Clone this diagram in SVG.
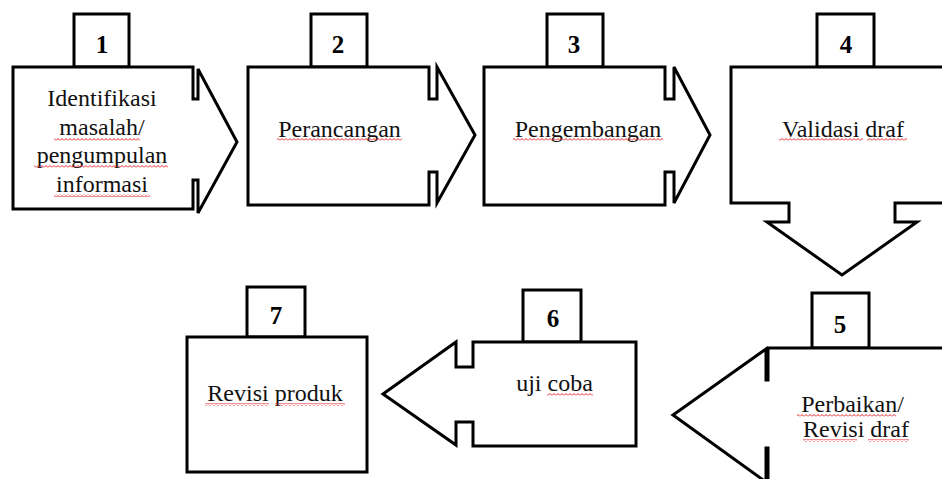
<svg xmlns="http://www.w3.org/2000/svg" width="942" height="479" viewBox="0 0 942 479">
  <style>
    .shape { fill: #ffffff; stroke: #000000; stroke-width: 3; stroke-linejoin: miter; }
    .tab { fill: #ffffff; stroke: #000000; stroke-width: 3; }
    .num { font-family: "Liberation Serif", "Times New Roman", serif; font-weight: bold; font-size: 25px; fill: #000; text-anchor: middle; }
    .lbl { font-family: "Liberation Serif", "Times New Roman", serif; font-size: 24px; fill: #111; text-anchor: middle; }
    .spell { fill: url(#wavy); }
  </style>
  <defs>
    <pattern id="wavy" width="4" height="3" patternUnits="userSpaceOnUse">
      <path d="M0,2.5 L2,0.5 L4,2.5" fill="none" stroke="#e3262b" stroke-width="1"/>
    </pattern>
  </defs>
  <rect width="942" height="479" fill="#ffffff"/>

  <g id="connectors"></g>

  <g id="node1">
    <rect class="tab" x="74" y="14" width="55" height="53"/>
    <path class="shape" d="M13,67 H193 V99 H198 V69 L237,142 L198,213 V180 H193 V209 H13 Z"/>
    <text class="num" x="102" y="53">1</text>
    <text class="lbl" x="102" y="106">Identifikasi</text>
    <text class="lbl" x="102" y="135">masalah/</text>
    <text class="lbl" x="102" y="163">pengumpulan</text>
    <text class="lbl" x="102" y="192">informasi</text>
    <rect class="spell" x="54" y="138" width="86" height="3"/>
    <rect class="spell" x="34" y="165" width="134" height="3"/>
    <rect class="spell" x="54" y="194" width="96" height="3"/>
  </g>

  <g id="node2">
    <rect class="tab" x="311" y="14" width="56" height="53"/>
    <path class="shape" d="M248,67 H429 V99 H437 V67 L475,135 L437,203 V172 H429 V205 H248 Z"/>
    <text class="num" x="338" y="53">2</text>
    <text class="lbl" x="339.5" y="137">Perancangan</text>
    <rect class="spell" x="277" y="138" width="125" height="3"/>
  </g>

  <g id="node3">
    <rect class="tab" x="547" y="14" width="56" height="53"/>
    <path class="shape" d="M484,67 H665 V99 H674 V67 L710,135 L674,203 V172 H665 V205 H484 Z"/>
    <text class="num" x="574" y="53">3</text>
    <text class="lbl" x="588" y="137">Pengembangan</text>
    <rect class="spell" x="513" y="138" width="150" height="3"/>
  </g>

  <g id="node4">
    <rect class="tab" x="817" y="14" width="57" height="53"/>
    <path class="shape" d="M731,67 H960 V203 H895 V222 H917 L842,275 L767,222 H789 V203 H731 Z"/>
    <text class="num" x="846" y="53">4</text>
    <text class="lbl" x="843" y="137">Validasi draf</text>
    <rect class="spell" x="779" y="138" width="84" height="3"/>
    <rect class="spell" x="867" y="138" width="40" height="3"/>
  </g>

  <g id="node5">
    <rect class="tab" x="812" y="293" width="57" height="55"/>
    <path class="shape" d="M960,348 H768 V380 H766 V349 L673,415 L766,482 V448 H768 V500 H960 Z"/>
    <text class="num" x="840" y="333">5</text>
    <text class="lbl" x="852.5" y="412">Perbaikan/</text>
    <text class="lbl" x="856" y="437">Revisi draf</text>
    <rect class="spell" x="797" y="414" width="99" height="3"/>
    <rect class="spell" x="803" y="439" width="54" height="3"/>
    <rect class="spell" x="868" y="439" width="41" height="3"/>
  </g>

  <g id="node6">
    <rect class="tab" x="523" y="290" width="58" height="52"/>
    <path class="shape" d="M636,342 V446 H473 V422 H456 V445 L383,394 L456,342 V367 H473 V342 Z"/>
    <text class="num" x="553" y="327">6</text>
    <text class="lbl" x="554.5" y="391">uji coba</text>
    <rect class="spell" x="547" y="393" width="46" height="3"/>
  </g>

  <g id="node7">
    <rect class="tab" x="247" y="287" width="58" height="50"/>
    <rect class="shape" x="187" y="337" width="180" height="135"/>
    <text class="num" x="276" y="324">7</text>
    <text class="lbl" x="275" y="401">Revisi produk</text>
    <rect class="spell" x="205" y="403" width="64" height="3"/>
    <rect class="spell" x="275" y="403" width="70" height="3"/>
  </g>
</svg>
